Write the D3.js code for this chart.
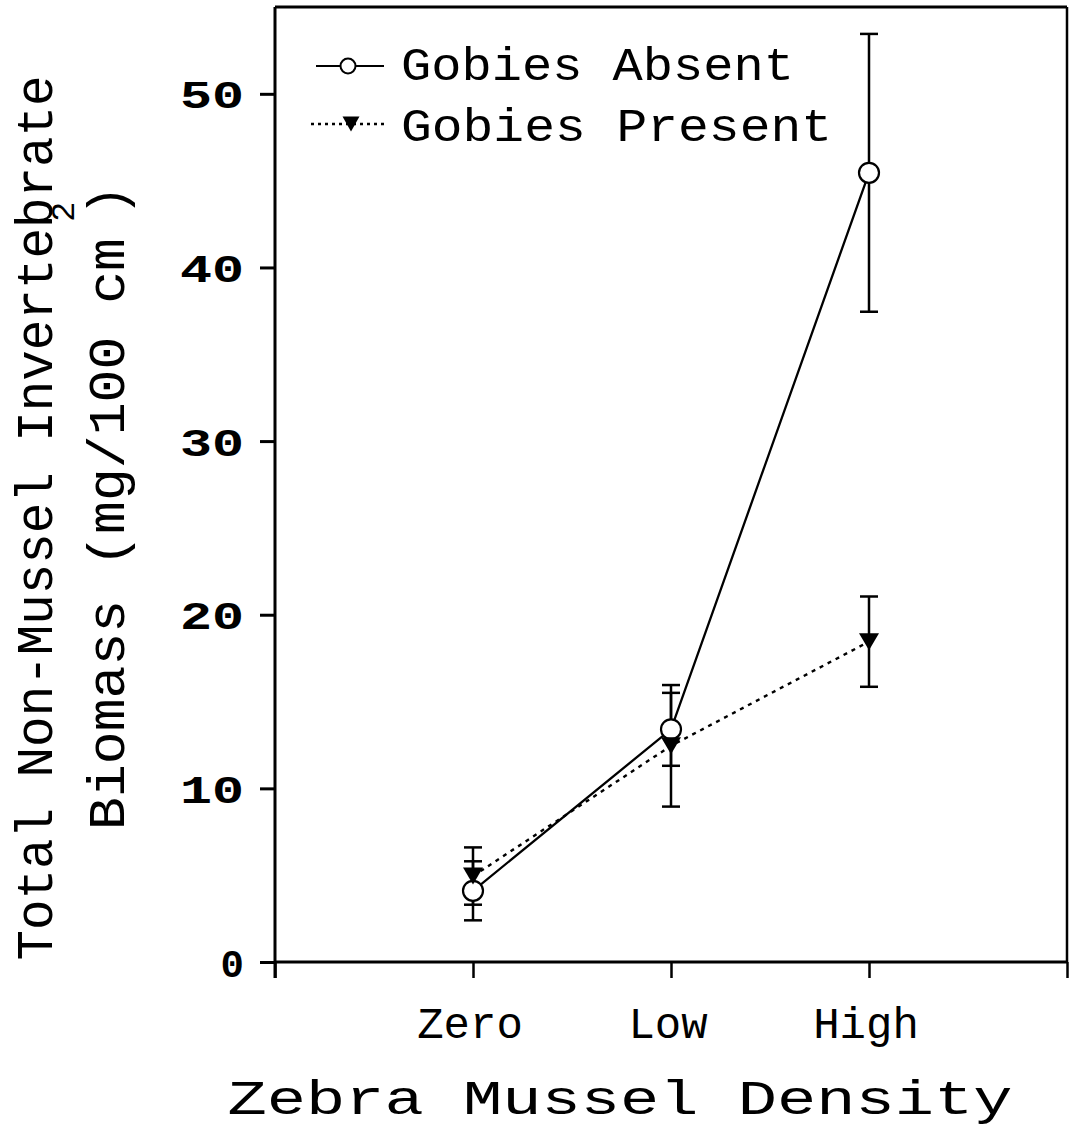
<!DOCTYPE html>
<html><head><meta charset="utf-8">
<script src="https://cdn.jsdelivr.net/npm/d3@7"></script>
<style>body{margin:0;background:#fff}svg{display:block}</style>
</head><body>
<script>
const categories = ["Zero", "Low", "High"];
const categoryPos = [1, 2, 3];
const absentMean = [4.1, 13.4, 45.45];
const absentErr = [1.7, 2.1, 8.0];
const presentMean = [4.95, 12.45, 18.45];
const presentErr = [1.65, 3.5, 2.6];
const yTicks = [0, 10, 20, 30, 40, 50];
const xTicks = [0, 1, 2, 3, 4];
const seriesNames = ["Gobies Absent", "Gobies Present"];

const W = 1073, H = 1148;
const svg = d3.select("body").append("svg").attr("width", W).attr("height", H);
const font = "'Liberation Mono', monospace";

const x = d3.scaleLinear().domain([0, 4]).range([275, 1067]);
const y = d3.scaleLinear().domain([0, 55]).range([962, 7]);

// frame
const g = svg.append("g");
g.append("line").attr("x1", x(0)).attr("x2", x(4)).attr("y1", y(55)).attr("y2", y(55))
  .attr("stroke", "#000").attr("stroke-width", 3);
g.append("line").attr("x1", x(4)).attr("x2", x(4)).attr("y1", y(55)).attr("y2", y(0))
  .attr("stroke", "#000").attr("stroke-width", 2.5);

// y axis
const yAxis = d3.axisLeft(y).tickValues(yTicks).tickSize(15).tickPadding(16).tickFormat(d3.format("d"));
const ya = svg.append("g").attr("transform", `translate(${x(0)},0)`).call(yAxis);
ya.select(".domain").attr("stroke-width", 3).attr("d", `M0,${y(55)}V${y(0) + 16}`);
ya.selectAll(".tick line").attr("stroke-width", 3);
ya.selectAll(".tick text").attr("font-family", font).attr("font-weight", "bold")
  .attr("font-size", 39).attr("fill", "#000").attr("dy", "0.36em")
  .each(function (d) {
    if (d >= 10) d3.select(this).attr("textLength", 64).attr("lengthAdjust", "spacingAndGlyphs");
  });

// x axis
const xAxis = d3.axisBottom(x).tickValues(xTicks).tickSize(16).tickFormat("");
const xa = svg.append("g").attr("transform", `translate(0,${y(0)})`).call(xAxis);
xa.select(".domain").attr("stroke-width", 3).attr("d", `M${x(0)},0H${x(4)}`);
xa.selectAll(".tick line").attr("stroke-width", 2.5);

// category labels
svg.append("g").selectAll("text").data(categories).join("text")
  .attr("x", (d, i) => x(categoryPos[i]) - 3)
  .attr("y", 1038)
  .attr("text-anchor", "middle")
  .attr("font-family", font).attr("font-size", 44).attr("fill", "#000")
  .text(d => d);

// x title
svg.append("text").attr("x", 620).attr("y", 1114).attr("text-anchor", "middle")
  .attr("font-family", font).attr("font-size", 49).attr("fill", "#000")
  .attr("textLength", 785).attr("lengthAdjust", "spacingAndGlyphs")
  .text("Zebra Mussel Density");

// y title
const yt = svg.append("g").attr("transform", "translate(52,518) rotate(-90)");
yt.append("text").attr("x", 0).attr("y", 0).attr("text-anchor", "middle")
  .attr("font-family", font).attr("font-size", 51).attr("fill", "#000")
  .attr("textLength", 885).attr("lengthAdjust", "spacingAndGlyphs")
  .text("Total Non-Mussel Invertebrate");
const yt2 = svg.append("g").attr("transform", "translate(124,0) rotate(-90)");
yt2.append("text").attr("x", -830).attr("y", 0).attr("text-anchor", "start")
  .attr("font-family", font).attr("font-size", 51).attr("fill", "#000")
  .attr("textLength", 592).attr("lengthAdjust", "spacingAndGlyphs")
  .text("Biomass (mg/100 cm");
yt2.append("text").attr("x", -222).attr("y", -50).attr("text-anchor", "start")
  .attr("font-family", font).attr("font-size", 34).attr("fill", "#000").text("2");
yt2.append("text").attr("x", -216).attr("y", 0).attr("text-anchor", "start")
  .attr("font-family", font).attr("font-size", 51).attr("fill", "#000").text(")");

const absent = categoryPos.map((p, i) => ({ p, m: absentMean[i], e: absentErr[i] }));
const present = categoryPos.map((p, i) => ({ p, m: presentMean[i], e: presentErr[i] }));

const line = d3.line().x(d => x(d.p)).y(d => y(d.m));

// error bars
function errBars(data, cls) {
  const eg = svg.append("g").attr("class", cls);
  eg.selectAll("line.v").data(data).join("line").attr("class", "v")
    .attr("x1", d => x(d.p)).attr("x2", d => x(d.p))
    .attr("y1", d => y(d.m + d.e)).attr("y2", d => y(d.m - d.e))
    .attr("stroke", "#000").attr("stroke-width", 2.5);
  eg.selectAll("line.t").data(data).join("line").attr("class", "t")
    .attr("x1", d => x(d.p) - 9).attr("x2", d => x(d.p) + 9)
    .attr("y1", d => y(d.m + d.e)).attr("y2", d => y(d.m + d.e))
    .attr("stroke", "#000").attr("stroke-width", 2.5);
  eg.selectAll("line.b").data(data).join("line").attr("class", "b")
    .attr("x1", d => x(d.p) - 9).attr("x2", d => x(d.p) + 9)
    .attr("y1", d => y(d.m - d.e)).attr("y2", d => y(d.m - d.e))
    .attr("stroke", "#000").attr("stroke-width", 2.5);
}
errBars(absent, "errA");
errBars(present, "errP");

// lines
svg.append("path").datum(present).attr("d", line).attr("fill", "none")
  .attr("stroke", "#000").attr("stroke-width", 2.4).attr("stroke-dasharray", "4,5");
svg.append("path").datum(absent).attr("d", line).attr("fill", "none")
  .attr("stroke", "#000").attr("stroke-width", 2.3);

const tri = (cx, cy, w, h) => `M${cx - w / 2},${cy - h / 2}L${cx + w / 2},${cy - h / 2}L${cx},${cy + h / 2}Z`;

// markers
svg.append("g").selectAll("circle").data(absent).join("circle")
  .attr("cx", d => x(d.p)).attr("cy", d => y(d.m)).attr("r", 10)
  .attr("fill", "#fff").attr("stroke", "#000").attr("stroke-width", 2.2);
svg.append("g").selectAll("path").data(present).join("path")
  .attr("d", d => tri(x(d.p), y(d.m), 20, 17)).attr("fill", "#000");

// legend
const lg = svg.append("g");
lg.append("line").attr("x1", 316).attr("x2", 384).attr("y1", 66).attr("y2", 66)
  .attr("stroke", "#000").attr("stroke-width", 2.2);
lg.append("circle").attr("cx", 348).attr("cy", 66).attr("r", 7.5)
  .attr("fill", "#fff").attr("stroke", "#000").attr("stroke-width", 2);
lg.append("line").attr("x1", 311).attr("x2", 384).attr("y1", 124).attr("y2", 124)
  .attr("stroke", "#000").attr("stroke-width", 2.4).attr("stroke-dasharray", "3,4");
lg.append("path").attr("d", tri(351, 124, 17, 15)).attr("fill", "#000");
lg.selectAll("text").data(seriesNames).join("text")
  .attr("x", 401).attr("y", (d, i) => i === 0 ? 80 : 141)
  .attr("font-family", font).attr("font-size", 46).attr("fill", "#000")
  .attr("textLength", (d, i) => i === 0 ? 393 : 431).attr("lengthAdjust", "spacingAndGlyphs")
  .text(d => d);
</script>
</body></html>
